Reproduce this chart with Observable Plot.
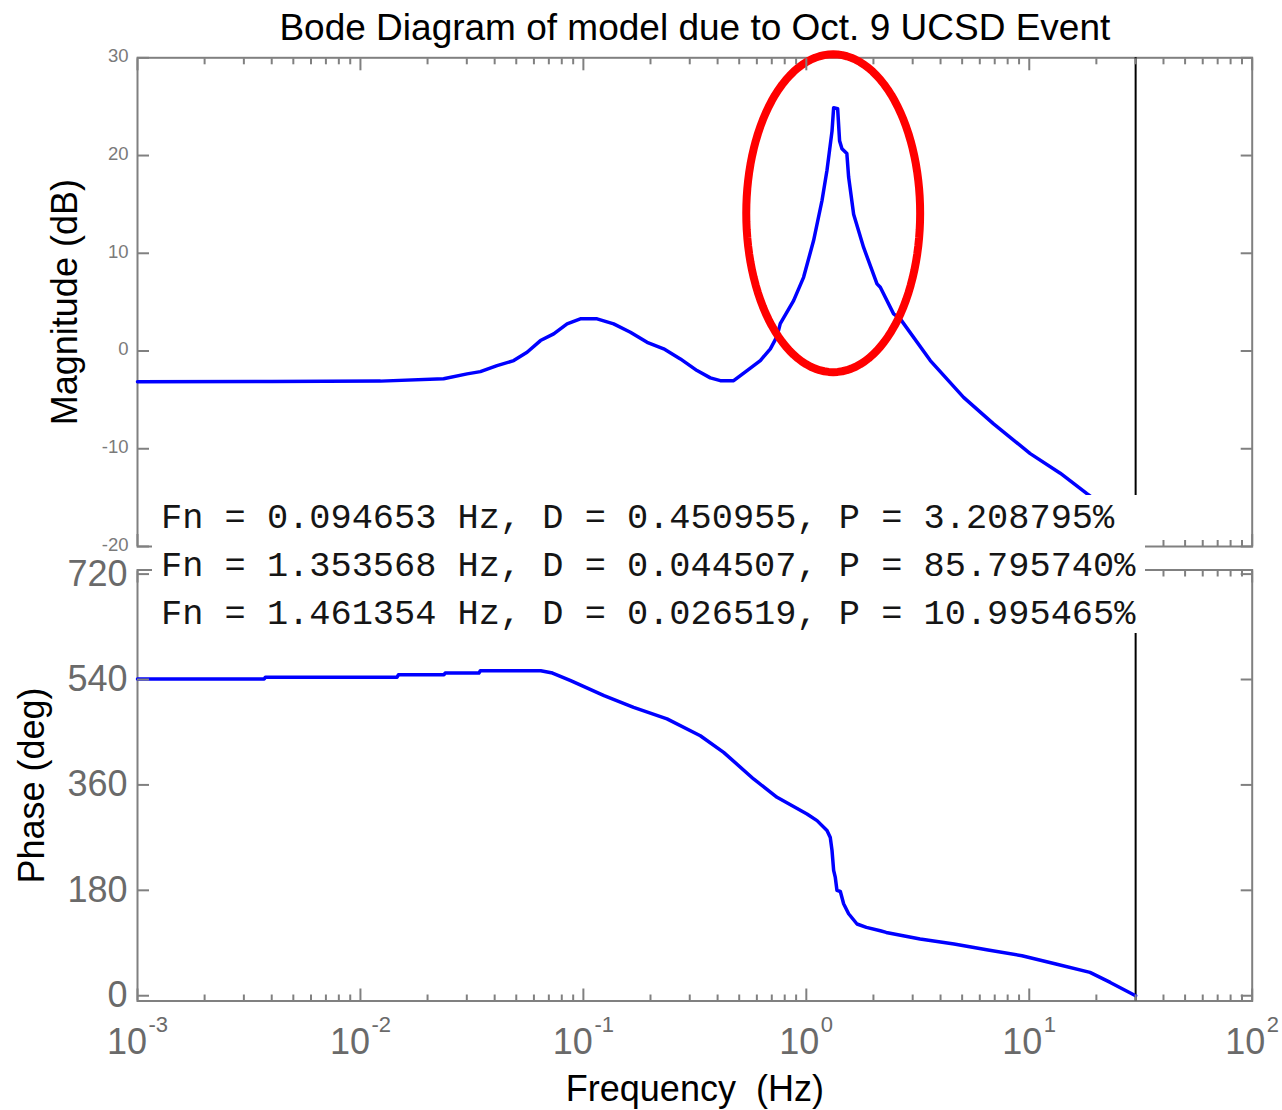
<!DOCTYPE html>
<html>
<head>
<meta charset="utf-8">
<script src="https://cdn.jsdelivr.net/npm/d3@7"></script>
<script src="https://cdn.jsdelivr.net/npm/@observablehq/plot@0.6"></script>
<style>
  body { margin: 0; background: #fff; }
  #wrap { position: relative; width: 1282px; height: 1110px; overflow: hidden; background: #fff; }
  #magHolder, #phaseHolder { position: absolute; left: 0; }
  #magHolder { top: 0; }
  #phaseHolder { top: 560px; }
  #modes {
    position: absolute; left: 152px; top: 495px; width: 993px; height: 138px;
    background: #fff; z-index: 5;
    font-family: "Liberation Mono", "DejaVu Sans Mono", monospace;
    font-size: 35.3px; line-height: 48px; color: #151515; white-space: pre;
  }
  #modes div { padding-left: 9px; }
</style>
</head>
<body>
<div id="wrap">
  <div id="magHolder"></div>
  <div id="phaseHolder"></div>
  <div id="modes"></div>
</div>
<script>
// ---------- data ----------
const magFreq = [0.001, 0.004, 0.0123, 0.0236, 0.0301, 0.0345, 0.0410, 0.0487, 0.0559, 0.0642, 0.0736, 0.0845, 0.0969, 0.1152, 0.1367, 0.1625, 0.1931, 0.2292, 0.2723, 0.3235, 0.3711, 0.4114, 0.4721, 0.5422, 0.6218, 0.6897, 0.739, 0.764, 0.877, 0.972, 1.078, 1.176, 1.238, 1.304, 1.326, 1.382, 1.41, 1.445, 1.52, 1.548, 1.63, 1.807, 2.075, 2.147, 2.463, 2.639, 3.598, 5.075, 6.918, 10.1, 13.77, 18.14, 23.0, 30.0];
const magDb   = [-3.15, -3.12, -3.08, -2.84, -2.34, -2.11, -1.49, -0.98, -0.13, 1.07, 1.76, 2.78, 3.29, 3.29, 2.78, 1.92, 0.89, 0.22, -0.81, -2.0, -2.75, -3.03, -3.03, -2.0, -0.98, 0.22, 1.5, 2.8, 5.16, 7.54, 11.3, 15.4, 18.5, 22.5, 24.9, 24.8, 21.5, 20.7, 20.2, 17.8, 14.0, 10.6, 6.87, 6.52, 3.8, 3.29, -0.98, -4.74, -7.46, -10.5, -12.5, -14.6, -16.3, -18.0];

const phaseFreq = [0.001, 0.0037, 0.00375, 0.0146, 0.0148, 0.0237, 0.0240, 0.034, 0.0345, 0.0644, 0.0727, 0.0877, 0.1238, 0.168, 0.2372, 0.3346, 0.4257, 0.580, 0.739, 1.007, 1.117, 1.238, 1.281, 1.304, 1.326, 1.349, 1.372, 1.421, 1.47, 1.548, 1.688, 1.86, 2.147, 2.282, 3.238, 4.600, 6.535, 9.276, 13.17, 18.72, 23.08, 30.0];
const phaseDeg  = [541, 541, 544, 544, 548, 548, 551, 551, 555, 555, 551, 538, 512.5, 492.5, 472.7, 444, 415.6, 370.2, 338.8, 310.4, 299, 282, 270, 248, 214, 202, 180, 178, 157, 140, 122.5, 116.7, 111, 108.1, 96.9, 88.3, 78.1, 68.3, 54.1, 39.8, 22.7, 0];

const dbTicks = [-20, -10, 0, 10, 20, 30];
const degTicks = [0, 180, 360, 540, 720];
const decadeTicks = [0.001, 0.01, 0.1, 1, 10, 100];
const decadeExp = ["-3", "-2", "-1", "0", "1", "2"];
const nyquist = [30];

const titleText = "Bode Diagram of model due to Oct. 9 UCSD Event";
const magLabel = "Magnitude (dB)";
const phaseLabel = "Phase (deg)";
const freqLabel = "Frequency\u00a0 (Hz)";

const modeFn = ["0.094653", "1.353568", "1.461354"];
const modeD  = ["0.450955", "0.044507", "0.026519"];
const modeP  = ["3.208795", "85.795740", "10.995465"];

// highlight ellipse (annotation) in data space: centre and half-axes
const ringCenterF = 1.32, ringCenterDb = 14.1, ringHalfDecades = 0.39, ringHalfDb = 16.26;

// ---------- derived ----------
const magData = magFreq.map((f, i) => ({f, v: magDb[i]}));
const phaseData = phaseFreq.map((f, i) => ({f, v: phaseDeg[i]}));
const minorTicks = [];
for (const d of decadeTicks.slice(0, -1)) for (let k = 2; k <= 9; k++) minorTicks.push(+(d * k).toPrecision(3));
const ring = d3.range(0, 121).map(i => {
  const t = (i / 120) * 2 * Math.PI;
  return {f: Math.pow(10, Math.log10(ringCenterF) + ringHalfDecades * Math.cos(t)), v: ringCenterDb + ringHalfDb * Math.sin(t)};
});
const labelData = decadeTicks.map((d, i) => ({d, e: decadeExp[i], neg: decadeExp[i].startsWith("-")}));

const gray = "#808080";
const font = "'Liberation Sans', Arial, sans-serif";
const W = 1282, ML = 137, MR = 30.3;
const xOpt = {type: "log", domain: [1e-3, 1e2]};

function frameTicks(yTicks) {
  const common = {stroke: gray, strokeWidth: 2, tickFormat: () => "", label: null};
  return [
    Plot.axisX({anchor: "bottom", ticks: decadeTicks, tickSize: -12, ...common}),
    Plot.axisX({anchor: "top", ticks: decadeTicks, tickSize: -12, ...common}),
    Plot.axisX({anchor: "bottom", ticks: minorTicks, tickSize: -6, ...common}),
    Plot.axisX({anchor: "top", ticks: minorTicks, tickSize: -6, ...common}),
    Plot.axisY({anchor: "left", ticks: yTicks, tickSize: -12, ...common}),
    Plot.axisY({anchor: "right", ticks: yTicks, tickSize: -12, ...common})
  ];
}

// ---------- top: magnitude ----------
const magPlot = Plot.plot({
  width: W, height: 560,
  marginTop: 57.3, marginBottom: 14, marginLeft: ML, marginRight: MR,
  style: {fontFamily: font, background: "transparent", overflow: "visible"},
  x: xOpt,
  y: {domain: [-20, 30]},
  marks: [
    Plot.frame({stroke: gray, strokeWidth: 2}),
    Plot.ruleX(nyquist, {stroke: "black", strokeWidth: 2}),
    Plot.line(magData, {x: "f", y: "v", stroke: "#0000ff", strokeWidth: 3.5}),
    Plot.line(ring, {x: "f", y: "v", stroke: "#ff0000", strokeWidth: 8}),
    ...frameTicks(dbTicks),
    Plot.axisY({anchor: "left", ticks: dbTicks, tickSize: 0, tickPadding: 9, fontSize: 18.5, dy: -1.5, fill: "#7a7a7a", tickFormat: d => String(d), label: null}),
    Plot.text([magLabel], {text: d => d, frameAnchor: "left", dx: -72, rotate: -90, fontSize: 36, fill: "black", textAnchor: "middle", lineAnchor: "middle"}),
    Plot.text([titleText], {text: d => d, frameAnchor: "top", dy: -18.3, fontSize: 37, fill: "black", lineAnchor: "bottom"})
  ]
});
document.getElementById("magHolder").append(magPlot);

// ---------- bottom: phase ----------
const phasePlot = Plot.plot({
  width: W, height: 550,
  marginTop: 9.5, marginBottom: 109.5, marginLeft: ML, marginRight: MR,
  style: {fontFamily: font, background: "transparent", overflow: "visible"},
  x: xOpt,
  y: {domain: [-9, 727]},
  marks: [
    Plot.frame({stroke: gray, strokeWidth: 2}),
    Plot.ruleX(nyquist, {stroke: "black", strokeWidth: 2}),
    Plot.line(phaseData, {x: "f", y: "v", stroke: "#0000ff", strokeWidth: 3.5}),
    ...frameTicks(degTicks),
    Plot.axisY({anchor: "left", ticks: degTicks, tickSize: 0, tickPadding: 10, fontSize: 36, fill: "#6a6a6a", tickFormat: d => String(d), label: null}),
    Plot.text(labelData, {filter: d => d.neg, x: "d", text: () => "10", frameAnchor: "bottom", dy: 52.8, dx: 9.5, textAnchor: "end", lineAnchor: "bottom", fontSize: 36, fill: "#6a6a6a"}),
    Plot.text(labelData, {filter: d => !d.neg, x: "d", text: () => "10", frameAnchor: "bottom", dy: 52.8, dx: 13, textAnchor: "end", lineAnchor: "bottom", fontSize: 36, fill: "#6a6a6a"}),
    Plot.text(labelData, {filter: d => d.neg, x: "d", text: "e", frameAnchor: "bottom", dy: 30.5, dx: 11, textAnchor: "start", lineAnchor: "bottom", fontSize: 22, fill: "#6a6a6a"}),
    Plot.text(labelData, {filter: d => !d.neg, x: "d", text: "e", frameAnchor: "bottom", dy: 30.5, dx: 14.5, textAnchor: "start", lineAnchor: "bottom", fontSize: 22, fill: "#6a6a6a"}),
    Plot.text([freqLabel], {text: d => d, frameAnchor: "bottom", dy: 88.5, fontSize: 36, fill: "black", lineAnchor: "middle"}),
    Plot.text([phaseLabel], {text: d => d, frameAnchor: "left", dx: -105, rotate: -90, fontSize: 36, fill: "black", textAnchor: "middle", lineAnchor: "middle"})
  ]
});
document.getElementById("phaseHolder").append(phasePlot);

// ---------- mode annotation ----------
const modes = document.getElementById("modes");
modeFn.forEach((fn, i) => {
  const line = document.createElement("div");
  line.textContent = `Fn = ${fn} Hz, D = ${modeD[i]}, P = ${modeP[i]}%`;
  modes.append(line);
});
</script>
</body>
</html>
